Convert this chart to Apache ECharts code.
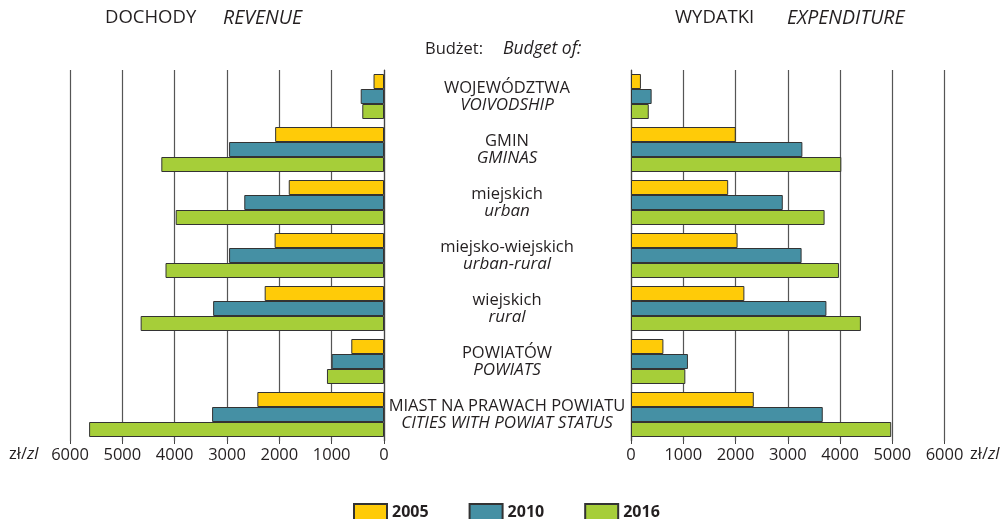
<!DOCTYPE html>
<html>
<head>
<meta charset="utf-8">
<script src="https://cdn.jsdelivr.net/npm/echarts@6/dist/echarts.min.js"></script>
<style>
  html, body { margin: 0; padding: 0; background: #fff; }
  #main { width: 1004px; height: 519px; }
</style>
</head>
<body>
<div id="main"></div>
<script>
// kategorie (PL / EN)
var catPL = ['WOJEWÓDZTWA', 'GMIN', 'miejskich', 'miejsko-wiejskich', 'wiejskich', 'POWIATÓW', 'MIAST NA PRAWACH POWIATU'];
var catEN = ['VOIVODSHIP', 'GMINAS', 'urban', 'urban-rural', 'rural', 'POWIATS', 'CITIES WITH POWIAT STATUS'];
var years = ['2005', '2010', '2016'];

// dochody - revenue, zł na mieszkańca
var rev2005 = [200, 2080, 1820, 2090, 2280, 625, 2420];
var rev2010 = [445, 2960, 2670, 2960, 3265, 1000, 3285];
var rev2016 = [415, 4255, 3980, 4175, 4650, 1090, 5635];

// wydatki - expenditure
var exp2005 = [190, 2005, 1860, 2040, 2170, 620, 2350];
var exp2010 = [395, 3280, 2905, 3265, 3740, 1090, 3670];
var exp2016 = [340, 4025, 3705, 3980, 4400, 1040, 4980];

var ticks = [0, 1000, 2000, 3000, 4000, 5000, 6000];

var colors = ['#ffcb08', '#4590a4', '#a6ce39'];
var font = '"Open Sans", "Noto Sans", sans-serif';
var txt = '#231f20';
var fs = 16.5;

var myChart = echarts.init(document.getElementById('main'));

function xAx(gridIndex, inverse) {
    return {
        type: 'value',
        gridIndex: gridIndex,
        inverse: inverse,
        min: ticks[0],
        max: ticks[ticks.length - 1],
        interval: 1000,
        axisLine: { show: false },
        axisTick: { show: true, length: 3, lineStyle: { color: '#444' } },
        axisLabel: {
            color: txt, fontSize: fs, fontFamily: font, margin: 6,
            formatter: function (v) { return String(v); }
        },
        splitLine: { show: true, lineStyle: { color: '#555', width: 1.2 } }
    };
}

function yAx(gridIndex, showLabel) {
    return {
        type: 'category',
        gridIndex: gridIndex,
        inverse: true,
        data: catPL,
        axisLine: { show: true, lineStyle: { color: '#444', width: 1.2 } },
        axisTick: { show: false },
        axisLabel: {
            show: showLabel,
            align: 'center',
            margin: 124,
            formatter: function (v, i) {
                return '{a|' + v + '}\n{b|' + catEN[i] + '}';
            },
            rich: {
                a: { fontSize: fs, fontFamily: font, color: txt, lineHeight: 17 },
                b: { fontSize: 17, fontFamily: font, color: txt, fontStyle: 'italic', lineHeight: 17 }
            }
        }
    };
}

function bar(name, data, idx, color) {
    return {
        name: name,
        type: 'bar',
        xAxisIndex: idx,
        yAxisIndex: idx,
        data: data,
        barWidth: 15,
        barGap: '0%',
        itemStyle: { color: color, borderColor: '#333', borderWidth: 1 },
        emphasis: { disabled: true }
    };
}

var unitRich = {
    a: { fontSize: fs, fill: txt, fontFamily: font },
    b: { fontSize: fs, fill: txt, fontStyle: 'italic', fontFamily: font }
};

var option = {
    animation: false,
    textStyle: { fontFamily: font },
    grid: [
        { left: 70, top: 70, width: 314, height: 371 },
        { left: 631, top: 70, width: 313.5, height: 371 }
    ],
    xAxis: [xAx(0, true), xAx(1, false)],
    yAxis: [yAx(0, false), yAx(1, true)],
    legend: {
        data: years,
        icon: 'rect',
        left: 348,
        top: 498,
        itemWidth: 33,
        itemHeight: 16,
        itemGap: 40,
        textStyle: { fontSize: 16, fontWeight: 'bold', color: txt, fontFamily: font }
    },
    graphic: [
        { type: 'text', left: 105, top: 8, style: { text: 'DOCHODY', fontSize: 18.5, fill: txt, fontFamily: font } },
        { type: 'text', left: 223, top: 8, style: { text: 'REVENUE', fontSize: 19.5, fill: txt, fontStyle: 'italic', fontFamily: font } },
        { type: 'text', left: 675, top: 8, style: { text: 'WYDATKI', fontSize: 18.5, fill: txt, fontFamily: font } },
        { type: 'text', left: 787, top: 8, style: { text: 'EXPENDITURE', fontSize: 19.5, fill: txt, fontStyle: 'italic', fontFamily: font } },
        { type: 'text', left: 425, top: 41, style: { text: 'Budżet:', fontSize: 16.5, fill: txt, fontFamily: font } },
        { type: 'text', left: 503, top: 40, style: { text: 'Budget of:', fontSize: 17.5, fill: txt, fontStyle: 'italic', fontFamily: font } },
        { type: 'text', left: 9, top: 446, style: { text: '{a|zł/}{b|zl}', rich: unitRich } },
        { type: 'text', left: 970, top: 446, style: { text: '{a|zł/}{b|zl}', rich: unitRich } }
    ],
    series: [
        bar(years[0], rev2005, 0, colors[0]),
        bar(years[1], rev2010, 0, colors[1]),
        bar(years[2], rev2016, 0, colors[2]),
        bar(years[0], exp2005, 1, colors[0]),
        bar(years[1], exp2010, 1, colors[1]),
        bar(years[2], exp2016, 1, colors[2])
    ]
};

myChart.setOption(option);
</script>
</body>
</html>
